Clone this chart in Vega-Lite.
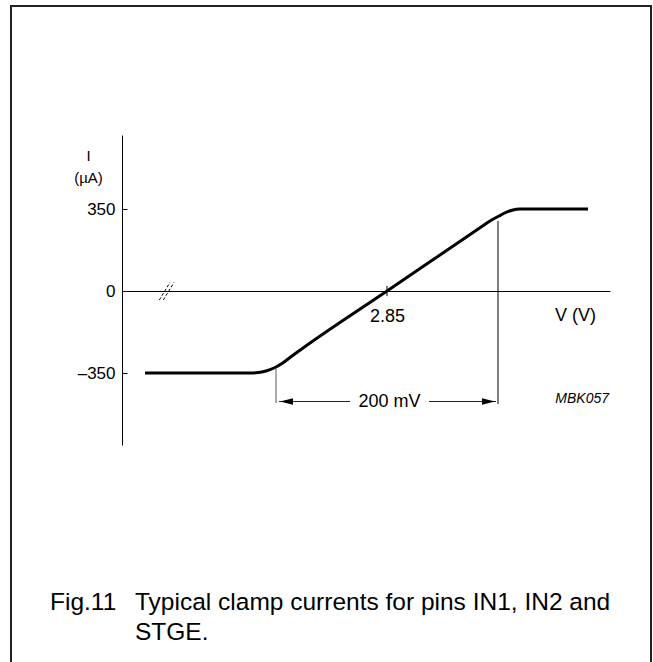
{
  "$schema": "https://vega.github.io/schema/vega-lite/v6.json",
  "autosize": "none",
  "width": 488,
  "height": 310,
  "padding": {"left": 122, "top": 135, "right": 43, "bottom": 217},
  "background": "white",
  "config": {"font": "Liberation Sans", "view": {"stroke": null}},
  "datasets": {
    "curve": [
      {"v": 2.6320, "i": -350},
      {"v": 2.7266, "i": -350},
      {"v": 2.7338, "i": -348.3},
      {"v": 2.7410, "i": -341.5},
      {"v": 2.7482, "i": -328.7},
      {"v": 2.7554, "i": -309.5},
      {"v": 2.7626, "i": -283.8},
      {"v": 2.7716, "i": -252.7},
      {"v": 2.8500, "i": 0},
      {"v": 2.9338, "i": 269.8},
      {"v": 2.9428, "i": 298.8},
      {"v": 2.9509, "i": 320.1},
      {"v": 2.9572, "i": 335.1},
      {"v": 2.9635, "i": 345.7},
      {"v": 2.9698, "i": 349.5},
      {"v": 2.9770, "i": 350},
      {"v": 3.0311, "i": 350}
    ],
    "frame": [{"v": 2.51126, "v2": 3.08784, "i": 1216.5, "i2": -1617.7}],
    "segments": [
      {"kind": "tick", "v": 2.85, "v2": 2.85, "i": -22, "i2": 22},
      {"kind": "left", "v": 2.75, "v2": 2.75, "i": -332.9, "i2": -478.0},
      {"kind": "right", "v": 2.95, "v2": 2.95, "i": 298.8, "i2": -482.3},
      {"kind": "arrowL", "v": 2.7527, "v2": 2.81667, "i": -471.6, "i2": -471.6},
      {"kind": "arrowR", "v": 2.88784, "v2": 2.9482, "i": -471.6, "i2": -471.6}
    ],
    "breaks": [
      {"v": 2.64490, "v2": 2.65450, "i": -38.4, "i2": 37.1},
      {"v": 2.64850, "v2": 2.65811, "i": -38.4, "i2": 37.1}
    ],
    "heads": [
      {"v": 2.75946, "i": -471.6, "dir": "left"},
      {"v": 2.94144, "i": -471.6, "dir": "right"}
    ],
    "labels": [
      {"v": 2.8523, "i": -475.9, "t": "200 mV"}
    ],
    "code": [
      {"v": 3.05, "i": -460.1, "t": "MBK057"}
    ],
    "caption": [
      {"v": 2.54640, "i": -1331.7, "t": "Fig.11"},
      {"v": 2.62297, "i": -1331.7, "t": "Typical clamp currents for pins IN1, IN2 and"},
      {"v": 2.62297, "i": -1459.7, "t": "STGE."}
    ]
  },
  "layer": [
    {
      "data": {"name": "curve"},
      "mark": {"type": "line", "color": "black", "strokeWidth": 3, "interpolate": "monotone", "strokeCap": "butt"},
      "encoding": {
        "x": {
          "field": "v", "type": "quantitative",
          "scale": {"domain": [2.61126, 3.0509], "nice": false, "zero": false},
          "axis": {
            "orient": "bottom", "offset": -154, "values": [2.85], "format": ".2f",
            "grid": false, "ticks": false, "domain": true, "domainColor": "black", "domainWidth": 1,
            "labelFontSize": 18, "labelColor": "black", "labelPadding": 16,
            "title": "V (V)", "titleFontSize": 18, "titleFontWeight": "normal", "titleColor": "black",
            "titleX": 453, "titleY": 24, "titleAlign": "center", "titleBaseline": "middle", "titleAngle": 0
          }
        },
        "y": {
          "field": "i", "type": "quantitative",
          "scale": {"domain": [-657.3, 665.85], "nice": false, "zero": false},
          "axis": {
            "orient": "left", "values": [-350, 0, 350], "grid": false,
            "domain": true, "domainColor": "black", "domainWidth": 1,
            "ticks": true, "tickSize": -5, "tickColor": "black", "tickWidth": 1,
            "labelFontSize": 17, "labelColor": "black", "labelPadding": 12,
            "labelExpr": "datum.value < 0 ? '–' + format(abs(datum.value), 'd') : datum.label",
            "title": ["I", "(µA)"], "titleFontSize": 15, "titleFontWeight": "normal", "titleColor": "black",
            "titleAngle": 0, "titleAlign": "center", "titleBaseline": "top",
            "titleX": -34, "titleY": 13, "titleLineHeight": 22
          }
        }
      }
    },
    {
      "data": {"name": "frame"},
      "mark": {"type": "rect", "fill": null, "stroke": "#222", "strokeWidth": 2},
      "encoding": {
        "x": {"field": "v", "type": "quantitative"},
        "x2": {"field": "v2"},
        "y": {"field": "i", "type": "quantitative"},
        "y2": {"field": "i2"}
      }
    },
    {
      "data": {"name": "segments"},
      "mark": {"type": "rule", "color": "black", "strokeWidth": 1},
      "encoding": {
        "x": {"field": "v", "type": "quantitative"},
        "x2": {"field": "v2"},
        "y": {"field": "i", "type": "quantitative"},
        "y2": {"field": "i2"},
        "color": {"field": "kind", "type": "nominal", "legend": null,
          "scale": {"domain": ["tick", "left", "right", "arrowL", "arrowR"], "range": ["black", "#555", "black", "#222", "#222"]}}
      }
    },
    {
      "data": {"name": "breaks"},
      "mark": {"type": "rule", "color": "black", "strokeWidth": 1, "strokeDash": [3, 2]},
      "encoding": {
        "x": {"field": "v", "type": "quantitative"},
        "x2": {"field": "v2"},
        "y": {"field": "i", "type": "quantitative"},
        "y2": {"field": "i2"}
      }
    },
    {
      "data": {"name": "heads"},
      "mark": {"type": "point", "filled": true, "color": "black", "size": 169, "opacity": 1},
      "encoding": {
        "x": {"field": "v", "type": "quantitative"},
        "y": {"field": "i", "type": "quantitative"},
        "shape": {"field": "dir", "type": "nominal", "legend": null,
          "scale": {"domain": ["left", "right"], "range": ["M -1 0 L 1 -0.5 L 1 0.5 Z", "M 1 0 L -1 -0.5 L -1 0.5 Z"]}}
      }
    },
    {
      "data": {"name": "labels"},
      "mark": {"type": "text", "fontSize": 18, "align": "center", "baseline": "middle", "color": "black"},
      "encoding": {
        "x": {"field": "v", "type": "quantitative"},
        "y": {"field": "i", "type": "quantitative"},
        "text": {"field": "t"}
      }
    },
    {
      "data": {"name": "code"},
      "mark": {"type": "text", "fontSize": 14, "fontStyle": "italic", "align": "right", "baseline": "middle", "color": "black"},
      "encoding": {
        "x": {"field": "v", "type": "quantitative"},
        "y": {"field": "i", "type": "quantitative"},
        "text": {"field": "t"}
      }
    },
    {
      "data": {"name": "caption"},
      "mark": {"type": "text", "fontSize": 24.5, "align": "left", "baseline": "middle", "color": "black"},
      "encoding": {
        "x": {"field": "v", "type": "quantitative"},
        "y": {"field": "i", "type": "quantitative"},
        "text": {"field": "t"}
      }
    }
  ]
}
